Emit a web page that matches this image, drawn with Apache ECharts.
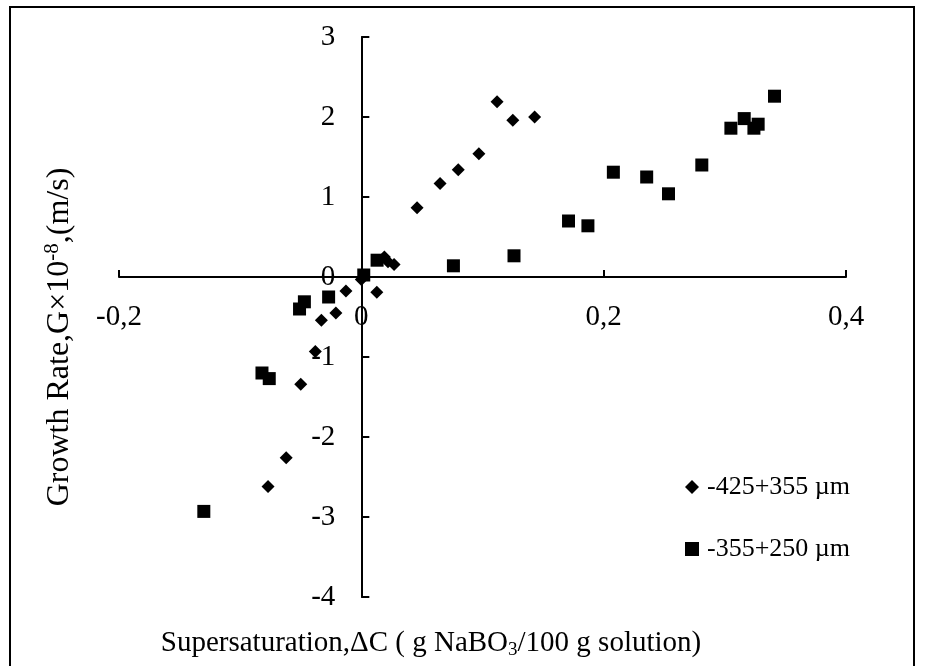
<!DOCTYPE html>
<html>
<head>
<meta charset="utf-8">
<script src="https://cdn.jsdelivr.net/npm/echarts@6/dist/echarts.min.js"></script>
<style>
html,body{margin:0;padding:0;background:#fff;}
#chart{width:926px;height:666px;}
</style>
</head>
<body>
<div id="chart"></div>
<script>
// Series A: -425+355 µm (diamonds)
var seriesAName = '-425+355 \u00b5m';
var seriesAX = [0.000, -0.0127, 0.0128, -0.021, -0.033, -0.038, -0.050, -0.062, -0.077, 0.019, 0.022, 0.027, 0.046, 0.065, 0.080, 0.097, 0.112, 0.125, 0.143];
var seriesAY = [-0.03, -0.175, -0.19, -0.45, -0.54, -0.93, -1.34, -2.26, -2.62, 0.25, 0.19, 0.155, 0.865, 1.17, 1.34, 1.54, 2.19, 1.96, 2.00];

// Series B: -355+250 µm (squares)
var seriesBName = '-355+250 \u00b5m';
var seriesBX = [-0.130, -0.082, -0.076, -0.051, -0.047, -0.027, 0.002, 0.013, 0.076, 0.126, 0.171, 0.187, 0.208, 0.2355, 0.2535, 0.281, 0.305, 0.316, 0.324, 0.3275, 0.341];
var seriesBY = [-2.93, -1.20, -1.27, -0.40, -0.31, -0.25, 0.025, 0.21, 0.14, 0.265, 0.70, 0.64, 1.31, 1.25, 1.04, 1.40, 1.86, 1.98, 1.86, 1.91, 2.26];

// Axis ranges / ticks
var xMin = -0.2, xMax = 0.4, xStep = 0.2;
var yMin = -4, yMax = 3, yStep = 1;
var xTitle = 'Supersaturation,\u0394C ( g NaBO{sub|3}/100 g solution)';
var yTitle = 'Growth Rate,G\u00d710{sup|-8},(m/s)';

function pairs(xs, ys) { return xs.map(function (x, i) { return [x, ys[i]]; }); }

var W = 926, H = 666;
var G = {left: 119, right: 80, top: 37, bottom: 69};
var gridW = W - G.left - G.right, gridH = H - G.top - G.bottom;
// axes cross at zero: shift each axis from the grid edge to the other axis's zero
var xAxisOffset = -gridH * (0 - yMin) / (yMax - yMin);
var yAxisOffset = -gridW * (0 - xMin) / (xMax - xMin);

var FONT = 'Liberation Serif';
var chart = echarts.init(document.getElementById('chart'), null, {renderer: 'canvas'});
chart.setOption({
  animation: false,
  backgroundColor: '#ffffff',
  textStyle: {fontFamily: FONT, color: '#000'},
  grid: {left: G.left, right: G.right, top: G.top, bottom: G.bottom, containLabel: false, outerBoundsMode: 'none'},
  xAxis: {
    type: 'value', min: xMin, max: xMax, interval: xStep,
    position: 'bottom', offset: xAxisOffset,
    axisLine: {onZero: false, lineStyle: {color: '#000', width: 2}},
    axisTick: {show: true, inside: true, length: 7, lineStyle: {color: '#000', width: 2}},
    splitLine: {show: false},
    axisLabel: {
      fontFamily: FONT, fontSize: 29, color: '#000', margin: 26,
      formatter: function (v) { return String(Math.round(v * 10) / 10).replace('.', ','); }
    }
  },
  yAxis: {
    type: 'value', min: yMin, max: yMax, interval: yStep,
    position: 'left', offset: yAxisOffset,
    axisLine: {onZero: false, lineStyle: {color: '#000', width: 2}},
    axisTick: {show: true, inside: true, length: 8, lineStyle: {color: '#000', width: 2}},
    splitLine: {show: false},
    axisLabel: {fontFamily: FONT, fontSize: 29, color: '#000', margin: 26}
  },
  legend: {
    orient: 'vertical', left: 680, top: 469, itemGap: 36,
    itemWidth: 14, itemHeight: 14,
    textStyle: {fontFamily: FONT, fontSize: 26, color: '#000', padding: [0, 0, 0, 3]},
    data: [seriesAName, seriesBName]
  },
  series: [
    {
      name: seriesAName, type: 'scatter', symbol: 'diamond', symbolSize: 13,
      itemStyle: {color: '#000', opacity: 1},
      data: pairs(seriesAX, seriesAY)
    },
    {
      name: seriesBName, type: 'scatter', symbol: 'rect', symbolSize: 13,
      itemStyle: {color: '#000', opacity: 1},
      data: pairs(seriesBX, seriesBY)
    }
  ],
  graphic: [
    {
      type: 'rect', silent: true, z: 100,
      shape: {x: 10, y: 7, width: 904, height: 700},
      style: {fill: 'none', stroke: '#000', lineWidth: 2}
    },
    {
      type: 'text', silent: true, x: 431, y: 643,
      style: {
        text: xTitle, fontFamily: FONT, fontSize: 29, fill: '#000', lineHeight: 34,
        align: 'center', verticalAlign: 'middle',
        rich: {sub: {fontFamily: FONT, fontSize: 19, lineHeight: 19, verticalAlign: 'bottom', fill: '#000'}}
      }
    },
    {
      type: 'text', silent: true, x: 60, y: 337, rotation: Math.PI / 2,
      style: {
        text: yTitle, fontFamily: FONT, fontSize: 32, fill: '#000', lineHeight: 37,
        align: 'center', verticalAlign: 'middle',
        rich: {sup: {fontFamily: FONT, fontSize: 21, lineHeight: 21, verticalAlign: 'top', fill: '#000'}}
      }
    }
  ]
});
</script>
</body>
</html>
